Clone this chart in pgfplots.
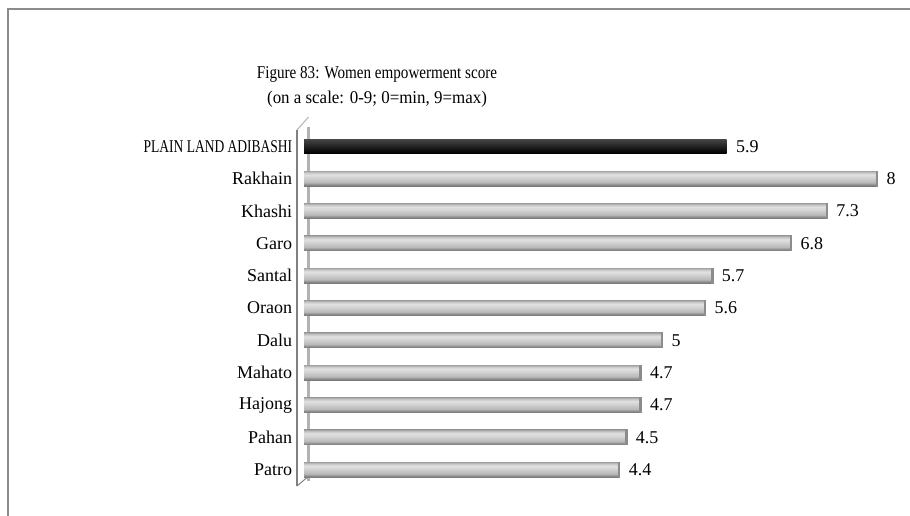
\documentclass[border=0pt]{standalone}
\usepackage{fontspec}
\setmainfont{Liberation Serif}
\usepackage{pgfplots}
\pgfplotsset{compat=1.18}

\definecolor{frame}{RGB}{140,140,140}
\definecolor{axisgray}{RGB}{128,128,128}
\definecolor{wallgray}{RGB}{178,178,178}
\definecolor{captop}{RGB}{140,140,140}
\definecolor{gA}{RGB}{120,120,120}
\definecolor{gB}{RGB}{140,140,140}
\definecolor{gC}{RGB}{185,185,185}
\definecolor{gD}{RGB}{200,200,200}
\definecolor{gE}{RGB}{214,214,214}
\definecolor{gF}{RGB}{224,224,224}
\definecolor{gG}{RGB}{200,200,200}
\definecolor{gH}{RGB}{165,165,165}
\definecolor{darktop}{RGB}{70,70,70}
\definecolor{darkmid}{RGB}{25,25,25}
\definecolor{darkbot}{RGB}{0,0,0}

% cylinder-like bar: stops between 25bp (bottom) and 75bp (top)
\pgfdeclareverticalshading{barshade}{100bp}{color(0bp)=(gA); color(25bp)=(gA);
  color(30bp)=(gB); color(37bp)=(gC); color(47bp)=(gD); color(55bp)=(gE);
  color(63bp)=(gF); color(70bp)=(gG); color(75bp)=(gH); color(100bp)=(gH)}

\newcommand{\lab}{\fontsize{18}{21}\selectfont}

\pgfplotsset{
  gbar/.style={xbar, bar width=15pt, bar shift=0pt, draw=none, shading=barshade,
    nodes near coords,
    every node near coord/.append style={font=\lab, black, xshift=6pt}},
}

\begin{document}
\begin{tikzpicture}
\path[use as bounding box] (0pt,0pt) rectangle (910pt,515pt);
% outer frame (only top and left edge lie inside the crop)
\draw[frame, line width=1.5pt] (8pt,-5pt) -- (8pt,506pt) -- (915pt,506pt);

\node[align=center, font=\fontsize{18}{25}\selectfont] at (377pt,428pt)
  {\scalebox{0.84}[1]{Figure 83: Women empowerment score}\\
   \scalebox{0.94}[1]{(on a scale: 0-9; 0=min, 9=max)}};

\begin{axis}[
  at={(297pt,29pt)}, anchor=south west,
  scale only axis, width=580pt, height=356pt,
  xmin=-0.1, xmax=8, ymin=-0.5, ymax=10.5,
  hide x axis,
  axis y line*=left,
  y axis line style={axisgray, line width=2pt, -},
  ytick={0,1,2,3,4,5,6,7,8,9,10},
  yticklabels={Patro,Pahan,Hajong,Mahato,Dalu,Oraon,Santal,Garo,Khashi,Rakhain,
    \scalebox{0.75}[1]{PLAIN LAND ADIBASHI}},
  major y tick style={draw=none},
  extra y ticks={-0.5,0.5,1.5,2.5,3.5,4.5,5.5,6.5,7.5,8.5,9.5,10.5},
  extra y tick labels={},
  extra y tick style={tick style={axisgray, line width=1pt}, major tick length=7pt},
  tick align=outside,
  yticklabel style={font=\lab, xshift=3pt},
  /pgf/number format/assume math mode=true,
  clip=false,
]
  % back wall of the 3D frame
  \draw[wallgray, line width=3.5pt] (axis cs:0.06,-0.35) -- (axis cs:0.06,10.6);
  \draw[axisgray, line width=1pt] (axis cs:-0.1,-0.5) -- (axis cs:0.06,-0.2);
  \draw[wallgray, line width=1pt] (axis cs:-0.1,10.5) -- (axis cs:0.06,10.9);

  % one plot per bar so that each bar gets its own shading
  \addplot[gbar] coordinates {(4.4,0)};
  \addplot[gbar] coordinates {(4.5,1)};
  \addplot[gbar] coordinates {(4.7,2)};
  \addplot[gbar] coordinates {(4.7,3)};
  \addplot[gbar] coordinates {(5,4)};
  \addplot[gbar] coordinates {(5.6,5)};
  \addplot[gbar] coordinates {(5.7,6)};
  \addplot[gbar] coordinates {(6.8,7)};
  \addplot[gbar] coordinates {(7.3,8)};
  \addplot[gbar] coordinates {(8,9)};
  \addplot[only marks, mark=|, mark size=8pt, mark options={captop, line width=2.5pt}]
  coordinates {(4.4,0) (4.5,1) (4.7,2) (4.7,3) (5,4) (5.6,5) (5.7,6) (6.8,7) (7.3,8) (8,9)};

  \addplot[xbar, bar width=14pt, bar shift=0pt, draw=none,
    top color=darktop, middle color=darkmid, bottom color=darkbot,
    nodes near coords,
    every node near coord/.append style={font=\lab, black, xshift=6pt}]
  coordinates {(5.9,10)};
\end{axis}
\end{tikzpicture}
\end{document}
